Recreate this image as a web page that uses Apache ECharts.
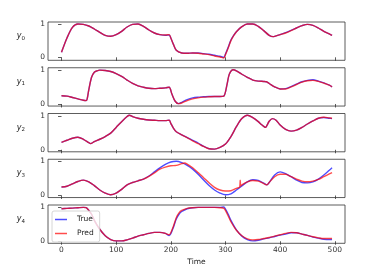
<!DOCTYPE html>
<html><head><meta charset="utf-8">
<script src="https://cdn.jsdelivr.net/npm/echarts@6.0.0/dist/echarts.min.js"></script>
<style>html,body{margin:0;padding:0;background:#fff}#c{width:371px;height:275px}</style>
</head><body><div id="c"></div><script>
// ---- data ----
const xTicks = [0, 100, 200, 300, 400, 500];
const yTicks = [0, 1];
const panelNames = ['0', '1', '2', '3', '4'];

const t0 = [0,10,20,30,40,50,60,70,80,90,100,110,120,130,140,150,160,170,180,190,197,200,205,210,220,230,240,250,260,270,280,290,297,300,305,310,315,320,330,340,350,360,370,380,387,390,400,410,420,430,440,450,460,470,480,490,495];
const true0 = [0.15,0.58,0.90,1.00,0.99,0.94,0.85,0.75,0.66,0.63,0.68,0.78,0.91,0.99,1.00,0.93,0.82,0.73,0.68,0.66,0.67,0.58,0.38,0.21,0.13,0.12,0.13,0.13,0.11,0.09,0.06,0.03,0.00,0.10,0.30,0.52,0.66,0.77,0.92,1.00,1.00,0.93,0.80,0.66,0.62,0.63,0.68,0.74,0.81,0.88,0.95,0.99,0.96,0.88,0.78,0.70,0.66];
const pred0 = [0.15,0.58,0.90,1.00,0.99,0.94,0.85,0.75,0.66,0.63,0.68,0.78,0.91,0.99,1.00,0.93,0.82,0.73,0.68,0.67,0.68,0.58,0.38,0.21,0.13,0.12,0.13,0.12,0.10,0.08,0.04,0.01,-0.02,0.08,0.28,0.50,0.65,0.77,0.92,1.00,1.00,0.93,0.80,0.66,0.62,0.63,0.68,0.73,0.80,0.88,0.95,0.99,0.96,0.88,0.78,0.70,0.66];

const t1 = [0,10,20,30,40,45,47,50,55,60,65,70,80,90,100,110,120,130,140,150,160,170,180,190,197,202,208,214,220,230,240,250,260,270,280,290,297,303,307,314,320,330,340,350,360,370,375,380,390,400,410,420,430,440,450,460,470,480,490,495];
const true1 = [0.24,0.23,0.19,0.15,0.11,0.10,0.15,0.42,0.78,0.93,0.97,0.99,0.98,0.95,0.89,0.81,0.70,0.60,0.53,0.49,0.46,0.45,0.46,0.47,0.49,0.29,0.08,0.01,0.05,0.13,0.18,0.20,0.21,0.22,0.22,0.22,0.23,0.58,0.87,1.00,0.97,0.87,0.78,0.70,0.67,0.66,0.65,0.60,0.50,0.44,0.45,0.51,0.58,0.65,0.69,0.71,0.67,0.62,0.55,0.50];
const pred1 = [0.24,0.23,0.19,0.15,0.11,0.10,0.15,0.42,0.78,0.93,0.97,0.99,0.98,0.95,0.89,0.81,0.70,0.60,0.53,0.49,0.46,0.45,0.46,0.47,0.49,0.29,0.08,0.01,0.03,0.10,0.15,0.18,0.20,0.21,0.22,0.22,0.23,0.58,0.87,1.00,0.97,0.87,0.78,0.70,0.67,0.66,0.65,0.60,0.50,0.44,0.44,0.50,0.57,0.64,0.68,0.69,0.66,0.61,0.55,0.50];

const t2 = [0,10,20,30,40,50,53,60,70,80,90,100,110,120,124,130,140,150,160,170,180,190,197,200,205,210,220,230,240,250,260,270,280,290,300,310,320,330,340,350,360,365,370,373,380,386,392,400,410,420,430,440,450,460,470,480,490,495];
const true2 = [0.22,0.28,0.34,0.37,0.31,0.21,0.18,0.24,0.31,0.39,0.49,0.66,0.83,0.98,1.02,0.98,0.93,0.90,0.88,0.87,0.86,0.86,0.87,0.78,0.63,0.53,0.44,0.36,0.28,0.20,0.10,0.03,0.02,0.07,0.17,0.39,0.68,0.92,1.02,0.95,0.83,0.75,0.69,0.66,0.84,0.92,0.88,0.73,0.60,0.55,0.58,0.66,0.76,0.85,0.93,0.95,0.93,0.92];
const pred2 = [0.22,0.28,0.34,0.37,0.31,0.21,0.18,0.24,0.31,0.39,0.49,0.66,0.83,0.98,1.02,0.98,0.93,0.90,0.88,0.87,0.86,0.86,0.87,0.78,0.63,0.53,0.44,0.36,0.26,0.18,0.10,0.03,0.02,0.07,0.17,0.39,0.68,0.92,1.02,0.95,0.83,0.75,0.69,0.66,0.84,0.92,0.88,0.73,0.60,0.55,0.58,0.66,0.76,0.85,0.93,0.96,0.94,0.93];

const t3 = [0,10,20,30,40,50,60,70,80,90,100,110,120,130,140,150,160,170,180,190,200,210,220,230,240,250,260,270,280,290,300,310,320,330,340,350,360,370,376,380,390,400,410,420,430,440,450,460,470,480,490,495];
const true3 = [0.25,0.27,0.34,0.41,0.45,0.40,0.29,0.16,0.07,0.02,0.07,0.18,0.31,0.38,0.43,0.48,0.57,0.69,0.81,0.91,0.98,1.00,0.96,0.88,0.77,0.62,0.45,0.29,0.16,0.07,0.02,0.05,0.16,0.28,0.40,0.46,0.44,0.36,0.31,0.38,0.60,0.69,0.64,0.55,0.45,0.38,0.37,0.40,0.48,0.60,0.74,0.81];
const t3p = [0,10,20,30,40,50,60,70,80,90,100,110,120,130,140,150,160,170,180,190,200,210,220,225,230,240,250,260,270,280,290,300,310,320,326,327,328,330,340,350,360,370,376,380,390,400,410,420,430,440,450,460,470,480,490,495];
const pred3 = [0.25,0.27,0.34,0.41,0.45,0.40,0.29,0.16,0.07,0.02,0.07,0.18,0.31,0.38,0.43,0.48,0.56,0.66,0.77,0.83,0.87,0.88,0.93,0.95,0.92,0.81,0.67,0.52,0.37,0.24,0.16,0.13,0.14,0.21,0.25,0.45,0.28,0.31,0.40,0.44,0.42,0.35,0.31,0.38,0.55,0.62,0.62,0.55,0.48,0.42,0.40,0.42,0.47,0.55,0.63,0.67];

const t4 = [0,10,20,30,40,45,50,55,60,70,80,90,100,110,120,130,140,150,160,170,180,190,197,200,205,210,215,220,230,240,250,260,270,280,290,297,300,305,310,320,330,340,350,360,370,380,390,400,410,420,430,440,450,460,470,480,490,495];
const true4 = [0.95,0.96,0.97,0.98,0.99,0.98,0.90,0.79,0.61,0.35,0.16,0.05,0.01,0.01,0.04,0.09,0.15,0.19,0.23,0.26,0.26,0.23,0.17,0.22,0.42,0.65,0.79,0.87,0.95,0.98,0.99,0.99,0.99,0.99,0.99,1.00,0.94,0.79,0.61,0.33,0.15,0.05,0.01,0.03,0.07,0.10,0.14,0.18,0.21,0.25,0.25,0.21,0.17,0.12,0.09,0.06,0.05,0.05];
const pred4 = [0.95,0.96,0.97,0.98,0.99,0.98,0.90,0.79,0.61,0.35,0.16,0.05,0.01,0.01,0.04,0.09,0.15,0.19,0.23,0.26,0.26,0.23,0.19,0.25,0.45,0.69,0.83,0.90,0.96,0.98,0.99,0.99,0.99,0.99,0.98,0.96,0.90,0.74,0.57,0.32,0.16,0.07,0.04,0.05,0.08,0.11,0.15,0.19,0.23,0.26,0.25,0.21,0.17,0.13,0.10,0.08,0.08,0.08];

const yMins = [-0.09, -0.06, -0.06, -0.06, -0.06];
const yMaxs = [1.06, 1.06, 1.07, 1.06, 1.06];

const trueT = [t0, t1, t2, t3, t4];
const predT = [t0, t1, t2, t3p, t4];
const trueV = [true0, true1, true2, true3, true4];
const predV = [pred0, pred1, pred2, pred3, pred4];

// ---- chart ----
const FONT = 'DejaVu Sans';
const BLUE = 'rgba(0,0,255,0.7)';
const RED = 'rgba(255,0,0,0.7)';
const zip = (t, v) => t.map((x, i) => [x, v[i]]);

const grids = [], xAxes = [], yAxes = [], series = [];
for (let i = 0; i < 5; i++) {
  grids.push({left: 48, width: 297, top: 22 + i * 45.75, height: 38.3,
    show: true, borderColor: '#333', borderWidth: 0.8, backgroundColor: 'transparent'});
  xAxes.push({type: 'value', gridIndex: i, min: -24.7, max: 518.7,
    axisLine: {show: false}, splitLine: {show: false},
    axisTick: {show: true, length: 3.5, customValues: xTicks, lineStyle: {color: '#333', width: 0.8}},
    axisLabel: {show: i === 4, customValues: xTicks, fontSize: 7.5, color: '#333', fontFamily: FONT, margin: 3},
    name: i === 4 ? 'Time' : '', nameLocation: 'middle', nameGap: 15,
    nameTextStyle: {fontSize: 7.5, color: '#222', fontFamily: FONT}});
  yAxes.push({type: 'value', gridIndex: i, min: yMins[i], max: yMaxs[i],
    axisLine: {show: false}, splitLine: {show: false},
    axisTick: {show: true, length: 3.5, customValues: yTicks, lineStyle: {color: '#333', width: 0.8}},
    axisLabel: {customValues: yTicks, fontSize: 7.5, color: '#333', fontFamily: FONT, margin: 3},
    name: '{i|y}{s|' + panelNames[i] + '}', nameLocation: 'middle', nameRotate: 0, nameGap: 23,
    nameTextStyle: {padding: [0, 0, 10, 0],
      rich: {i: {fontSize: 8, fontStyle: 'italic', fontFamily: FONT, color: '#222'},
             s: {fontSize: 5.5, fontFamily: FONT, color: '#222', padding: [4, 0, 0, 0]}}}});
  series.push({name: 'True', type: 'line', xAxisIndex: i, yAxisIndex: i, data: zip(trueT[i], trueV[i]),
    symbol: 'none', smooth: 0.3, lineStyle: {color: BLUE, width: 1.4}, itemStyle: {color: BLUE}, z: 2});
  series.push({name: 'Pred', type: 'line', xAxisIndex: i, yAxisIndex: i, data: zip(predT[i], predV[i]),
    symbol: 'none', smooth: 0.3, lineStyle: {color: RED, width: 1.4}, itemStyle: {color: RED}, z: 3});
}

const chart = echarts.init(document.getElementById('c'), null, {renderer: 'canvas'});
chart.setOption({
  animation: false,
  backgroundColor: '#fff',
  grid: grids, xAxis: xAxes, yAxis: yAxes, series: series,
  legend: {data: ['True', 'Pred'], orient: 'vertical', left: 52, top: 211,
    icon: 'rect', itemWidth: 12, itemHeight: 1.5, itemGap: 5,
    padding: [4, 6, 4, 3], backgroundColor: 'rgba(255,255,255,0.8)',
    borderColor: '#ccc', borderWidth: 0.8, borderRadius: 2, z: 10,
    textStyle: {fontSize: 7.5, color: '#222', fontFamily: FONT, padding: [0, 0, 0, 5], lineHeight: 9}}
});
</script></body></html>
